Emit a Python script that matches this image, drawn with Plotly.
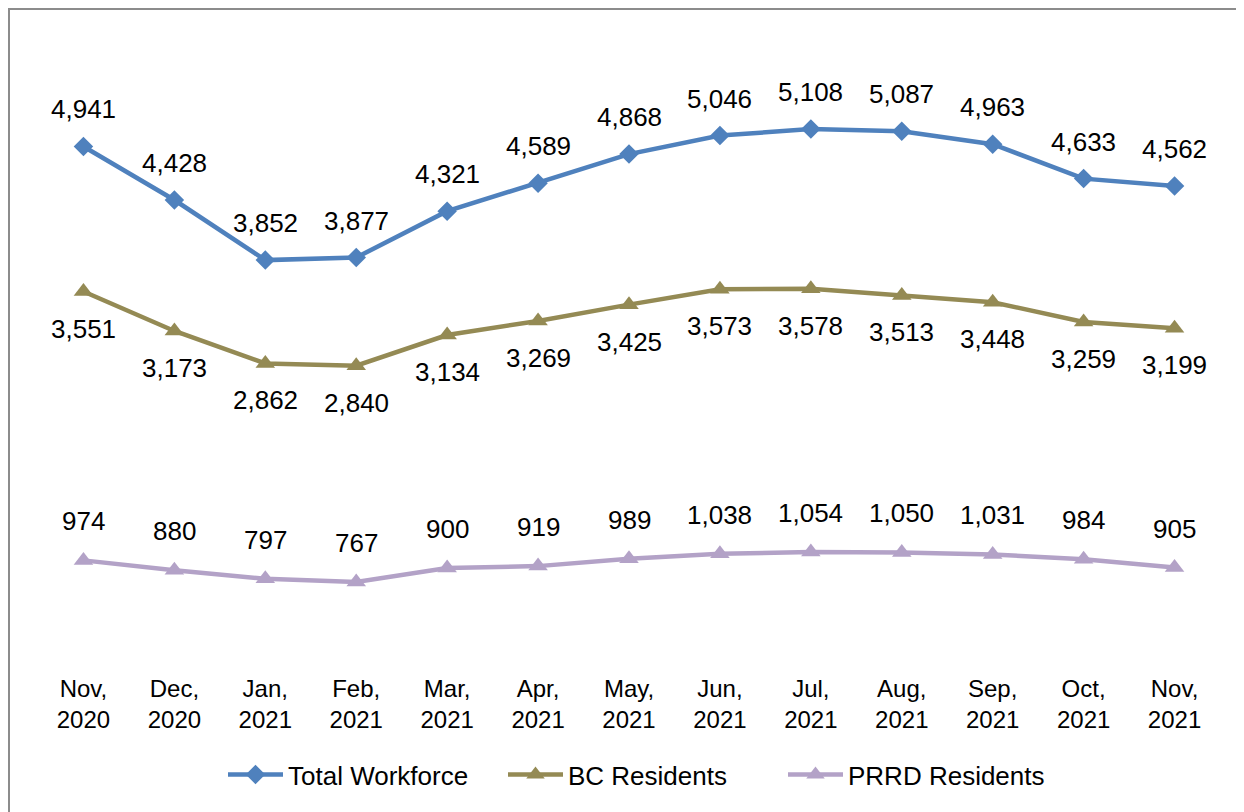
import plotly.graph_objects as go

months = ["Nov,<br>2020", "Dec,<br>2020", "Jan,<br>2021", "Feb,<br>2021", "Mar,<br>2021",
          "Apr,<br>2021", "May,<br>2021", "Jun,<br>2021", "Jul,<br>2021", "Aug,<br>2021",
          "Sep,<br>2021", "Oct,<br>2021", "Nov,<br>2021"]
total_workforce = [4941, 4428, 3852, 3877, 4321, 4589, 4868, 5046, 5108, 5087, 4963, 4633, 4562]
bc_residents = [3551, 3173, 2862, 2840, 3134, 3269, 3425, 3573, 3578, 3513, 3448, 3259, 3199]
prrd_residents = [974, 880, 797, 767, 900, 919, 989, 1038, 1054, 1050, 1031, 984, 905]

FONT = "Liberation Sans, Arial, sans-serif"
W, H = 1244, 812
ml, mr, mt, mb = 30, 32, 28, 158

series = [
    ("Total Workforce", total_workforce, "#4F81BD", "diamond", 15, 37),
    ("BC Residents", bc_residents, "#948A54", "triangle-up", 17, -37),
    ("PRRD Residents", prrd_residents, "#B3A2C7", "triangle-up", 17, 39),
]

x_idx = list(range(len(months)))
fig = go.Figure()
annotations = []
for name, vals, color, sym, msize, shift in series:
    fig.add_trace(go.Scatter(
        x=x_idx, y=vals, name=name, mode="lines+markers",
        line=dict(color=color, width=4.5),
        marker=dict(symbol=sym, size=msize, color=color),
    ))
    for xi, v in zip(x_idx, vals):
        annotations.append(dict(
            x=xi, y=v, xref="x", yref="y", text=f"{v:,}", showarrow=False,
            yshift=shift, font=dict(family=FONT, size=26, color="#000000"),
        ))

pw = W - ml - mr
ph = H - mt - mb
x0 = (1 - ml) / pw
x1 = (W + 20 - ml) / pw
y1 = (H - mb - 1) / ph
y0 = (H - mb - (H + 20)) / ph
legend_x = (215 - ml) / pw

fig.update_layout(
    width=W, height=H,
    margin=dict(l=ml, r=mr, t=mt, b=mb),
    paper_bgcolor="white", plot_bgcolor="white",
    font=dict(family=FONT, size=24, color="#000000"),
    showlegend=True,
    legend=dict(orientation="h", x=legend_x, xanchor="left", y=-0.18, yanchor="middle",
                font=dict(family=FONT, size=26), itemwidth=55, entrywidth=210,
                entrywidthmode="pixels", traceorder="normal"),
    xaxis=dict(tickmode="array", tickvals=x_idx, ticktext=months, range=[-0.5, 12.5],
               showgrid=False, zeroline=False, showline=False, ticks="",
               ticklabelstandoff=10, tickfont=dict(family=FONT, size=24)),
    yaxis=dict(range=[0, 6000], showgrid=False, zeroline=False, showline=False,
               showticklabels=False, ticks=""),
    annotations=annotations,
    shapes=[dict(type="rect", xref="paper", yref="paper", x0=x0, x1=x1, y0=y0, y1=y1,
                 line=dict(color="#8C8C8C", width=2), fillcolor="rgba(0,0,0,0)", layer="above")],
)

fig.write_html("out.html")
